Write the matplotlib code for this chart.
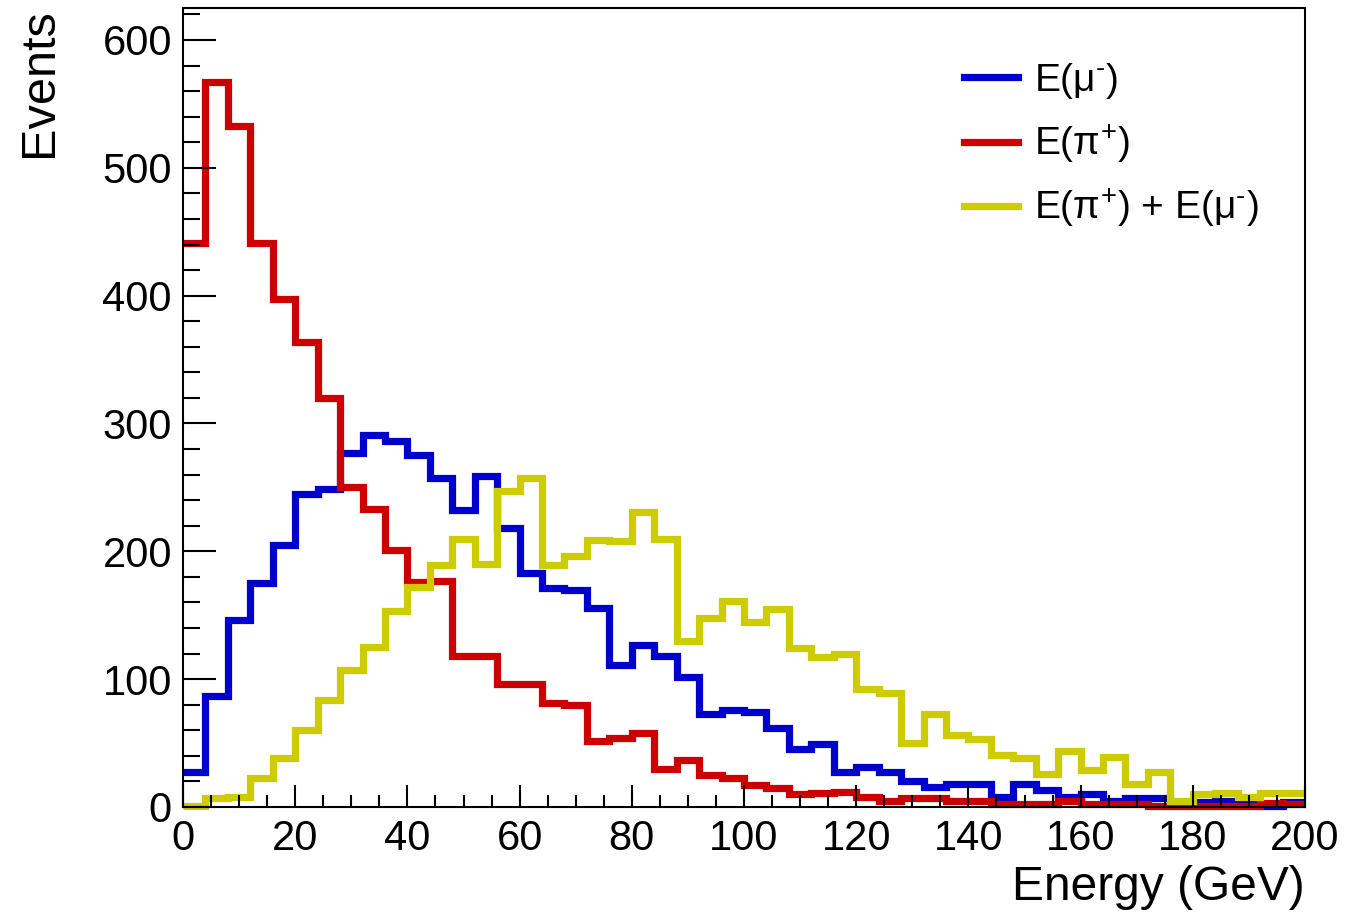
import numpy as np
import matplotlib
matplotlib.use("Agg")
from matplotlib import pyplot as plt
from matplotlib.ticker import MultipleLocator

plt.rcParams['font.family'] = ['Liberation Sans', 'DejaVu Sans']
plt.rcParams['mathtext.fontset'] = 'custom'
plt.rcParams['mathtext.rm'] = 'Liberation Sans'
plt.rcParams['mathtext.it'] = 'Liberation Sans'

# 50 bins of 4 GeV from 0 to 200
edges = np.arange(0, 201, 4)

mu_minus = [27, 87, 146, 175, 205, 245, 249, 277, 291, 286,
            275, 257, 232, 259, 218, 183, 171, 170, 156, 111,
            127, 118, 102, 73, 76, 74, 62, 45, 49, 27,
            31, 27, 20, 16, 18, 18, 8, 18, 13, 8,
            10, 5, 7, 7, 3, 4, 5, 3, 1, 4]
pi_plus = [441, 567, 533, 441, 397, 364, 320, 250, 233, 201,
           176, 177, 118, 118, 96, 96, 81, 80, 52, 54,
           58, 30, 37, 25, 23, 17, 15, 10, 11, 12,
           8, 5, 7, 7, 5, 5, 2, 2, 2, 5,
           2, 2, 2, 1, 1, 1, 1, 1, 3, 2]
pi_plus_mu = [1, 7, 8, 23, 38, 60, 84, 107, 125, 153,
              172, 189, 210, 190, 247, 257, 189, 196, 209, 208,
              231, 210, 130, 148, 161, 145, 155, 124, 117, 120,
              92, 89, 50, 73, 56, 53, 41, 38, 26, 44,
              29, 39, 18, 27, 5, 10, 11, 8, 11, 11]

fig = plt.figure(figsize=(13.68, 9.15), dpi=100)
ax = fig.add_axes([183/1368, 1-807/915, 1122/1368, 799/915])

ax.stairs(mu_minus, edges, baseline=None, color='#0000CC', lw=5.2,
          label=r'E(μ$^{\text{-}}$)', clip_on=False)
ax.stairs(pi_plus, edges, baseline=None, color='#CC0000', lw=5.2,
          label=r'E(π$^{+}$)', clip_on=False)
ax.stairs(pi_plus_mu, edges, baseline=None, color='#CCCC00', lw=5.2,
          label=r'E(π$^{+}$) + E(μ$^{\text{-}}$)', clip_on=False)

ax.set_xlim(0, 200)
ax.set_ylim(0, 625)
ax.xaxis.set_major_locator(MultipleLocator(20))
ax.xaxis.set_minor_locator(MultipleLocator(5))
ax.yaxis.set_major_locator(MultipleLocator(100))
ax.yaxis.set_minor_locator(MultipleLocator(20))
ax.tick_params(which='both', direction='in', top=False, right=False, labelsize=30, width=1.5)
ax.tick_params(axis='y', which='major', length=24, pad=8)
ax.tick_params(axis='y', which='minor', length=12)
ax.tick_params(axis='x', which='major', length=16, pad=9)
ax.tick_params(axis='x', which='minor', length=9)
for s in ax.spines.values():
    s.set_linewidth(1.5)

ax.text(-0.1275, 1.0, 'Events', rotation=90, transform=ax.transAxes,
        ha='center', va='top', fontsize=35)
ax.text(1.0, -0.101, 'Energy (GeV)', transform=ax.transAxes,
        ha='right', va='center', fontsize=34.5)

ax.legend(loc='upper left', bbox_to_anchor=(0.682, 0.953), frameon=False, fontsize=28,
          handlelength=1.4, handletextpad=0.4, labelspacing=0.55, borderaxespad=0)

fig.savefig('out.png', dpi=100)
